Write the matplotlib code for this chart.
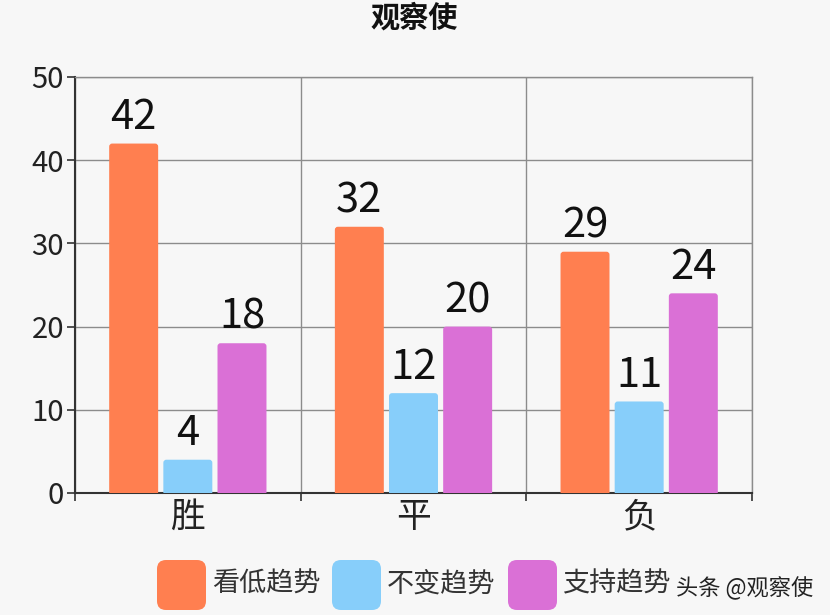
import matplotlib
matplotlib.use("Agg")
import matplotlib.pyplot as plt
from matplotlib.patches import FancyBboxPatch

plt.rcParams['font.family'] = ['Noto Sans CJK SC', 'DejaVu Sans']

# data
categories = ['胜', '平', '负']
series_names = ['看低趋势', '不变趋势', '支持趋势']
values = [
    [42, 32, 29],   # 看低趋势
    [4, 12, 11],    # 不变趋势
    [18, 20, 24],   # 支持趋势
]
colors = ['#FF7F50', '#87CEFA', '#DA70D6']
y_ticks = [0, 10, 20, 30, 40, 50]

bg = '#F7F7F7'
fig = plt.figure(figsize=(8.3, 6.15), dpi=100, facecolor=bg)
ax = fig.add_axes([75 / 830, 122 / 615, 677 / 830, 416 / 615], facecolor=bg)

ax.set_xlim(0, len(categories))
ax.set_ylim(0, 50)

# rounded corners: keep radius circular in pixels
px_x = 677 / len(categories)
px_y = 416 / 50
aspect = px_x / px_y
radius = 3 / px_x

step = 0.24
width = 0.217
centers = [i + 0.5 for i in range(len(categories))]
for s, (name, vals) in enumerate(zip(series_names, values)):
    xs = [c + (s - 1) * step for c in centers]
    bars = ax.bar(xs, vals, width=width, color=colors[s])
    for b, v in zip(bars, vals):
        x0, w = b.get_x(), b.get_width()
        b.remove()
        p = FancyBboxPatch((x0, -1), w, v + 1,
                           boxstyle=f"round,pad=0,rounding_size={radius}",
                           mutation_aspect=aspect, facecolor=colors[s],
                           edgecolor='none', zorder=3)
        ax.add_patch(p)
        ax.annotate(str(v), (x0 + w / 2, v), xytext=(0, 4),
                    textcoords='offset points', ha='center', va='bottom',
                    fontsize=30, color='#111111', zorder=4)

# grid and axes
ax.set_yticks(y_ticks)
ax.set_yticklabels([str(t) for t in y_ticks], fontsize=21, color='#222222')
ax.set_xticks(range(len(categories) + 1))
ax.set_xticklabels([])
ax.set_xticks(centers, minor=True)
ax.set_xticklabels(categories, minor=True, fontsize=25, color='#222222')
ax.tick_params(axis='x', which='minor', length=0, pad=5)
ax.tick_params(axis='x', which='major', length=6, width=1.2, color='#333333')
ax.tick_params(axis='y', length=6, width=1.2, color='#333333', pad=2)
ax.grid(True, which='major', color='#8c8c8c', linewidth=1, zorder=0)
ax.set_axisbelow(True)
for side in ['top', 'right']:
    ax.spines[side].set_color('#8c8c8c')
    ax.spines[side].set_linewidth(1)
for side in ['left', 'bottom']:
    ax.spines[side].set_color('#333333')
    ax.spines[side].set_linewidth(1.5)

fig.text(414 / 830, 1 - 18 / 615, '观察使', ha='center', va='center',
         fontsize=21, fontweight='bold', color='#111111')

# legend drawn in pixel space
lg = fig.add_axes([0, 0, 1, 1], facecolor='none')
lg.set_xlim(0, 830)
lg.set_ylim(615, 0)
lg.axis('off')
patch_x = [157, 332, 508]
for s, name in enumerate(series_names):
    lg.add_patch(FancyBboxPatch((patch_x[s], 560), 49, 50,
                                boxstyle="round,pad=0,rounding_size=9",
                                facecolor=colors[s], edgecolor='none'))
    lg.text(patch_x[s] + 55, 584, name, ha='left', va='center',
            fontsize=19.5, color='#333333')
lg.text(676, 588, '头条 @观察使', ha='left', va='center',
        fontsize=16, color='#222222')

fig.savefig('out.png', dpi=100, facecolor=bg)
